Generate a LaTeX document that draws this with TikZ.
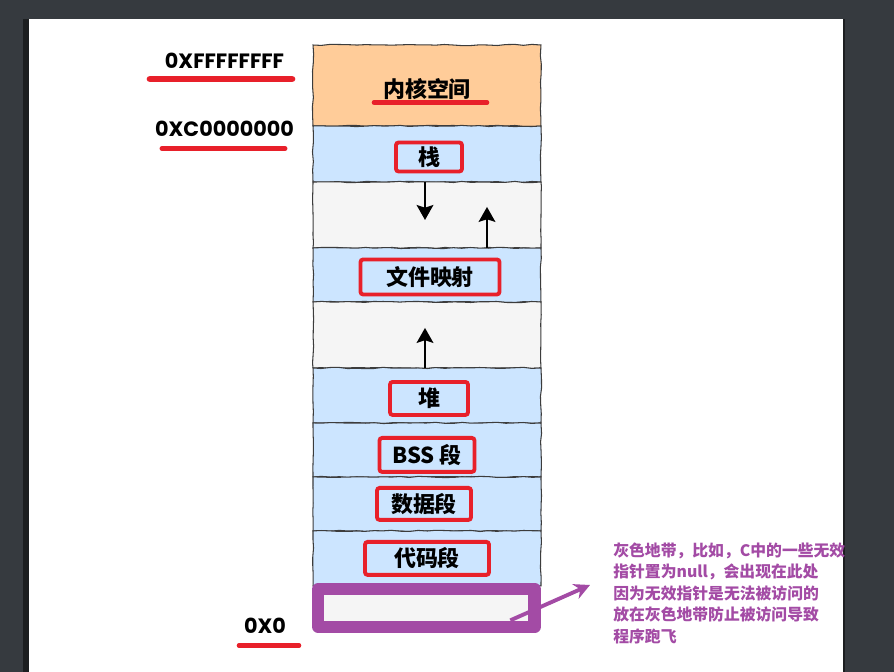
\documentclass[tikz,border=0pt]{standalone}
\usepackage{fontspec}
\usepackage{xcolor}
\usetikzlibrary{arrows.meta,calc,positioning,decorations.pathmorphing}
\newfontfamily\cjk{Noto Sans CJK SC}
\newfontfamily\addrfont{Poppins}
\definecolor{pagebg}{HTML}{363A3F}
\definecolor{pageedge}{HTML}{1C1E20}
\definecolor{kernelc}{HTML}{FFCC99}
\definecolor{userc}{HTML}{CCE5FF}
\definecolor{gapc}{HTML}{F5F5F5}
\definecolor{segline}{HTML}{3C3C3C}
\definecolor{tagred}{HTML}{E8202A}
\definecolor{notepurple}{HTML}{A34BA5}

\begin{document}
\begin{tikzpicture}[x=0.02cm, y=-0.02cm, node distance=0pt,
  seg/.style={draw=segline, line width=0.6pt, minimum width=4.56cm, inner sep=0pt, outer sep=0pt,
    decorate, decoration={random steps, segment length=5pt, amplitude=0.35pt}},
  tag/.style={draw=tagred, line width=2.2pt, rounded corners=1.5pt, inner sep=0pt,
    font=\cjk\bfseries\fontsize{12.5}{15}\selectfont},
  addr/.style={font=\addrfont\bfseries\fontsize{11.8}{14}\selectfont},
  redline/.style={tagred, line cap=round},
  growarrow/.style={-{Stealth[length=8.5pt, width=9.5pt, inset=1.5pt]}, line width=1.2pt},
  ptrarrow/.style={-{Stealth[length=9pt, width=9pt]}, line width=2.2pt, notepurple}]
  \pgfmathsetseed{7}
  % Page and window background
  \useasboundingbox (0,0) rectangle (894,672);
  \fill[pagebg] (0,0) rectangle (894,672);
  \fill[pageedge] (23,19) rectangle (29,672);
  \fill[white] (29,19) rectangle (843,672);
  \fill[pageedge] (843,19) rectangle (844.5,672);

  % Memory segments, top to bottom
  \node[seg, fill=kernelc, minimum height=1.62cm] (kernel) at (427,85.5) {};
  \node[seg, fill=userc, minimum height=1.12cm, below=of kernel] (stack) {};
  \node[seg, fill=gapc, minimum height=1.32cm, below=of stack] (gapone) {};
  \node[seg, fill=userc, minimum height=1.08cm, below=of gapone] (mmap) {};
  \node[seg, fill=gapc, minimum height=1.32cm, below=of mmap] (gaptwo) {};
  \node[seg, fill=userc, minimum height=1.10cm, below=of gaptwo] (heap) {};
  \node[seg, fill=userc, minimum height=1.08cm, below=of heap] (bss) {};
  \node[seg, fill=userc, minimum height=1.08cm, below=of bss] (data) {};
  \node[seg, fill=userc, minimum height=1.10cm, below=of data] (code) {};
  % Null guard band
  \node[fill=notepurple, rounded corners=3.5pt, minimum width=4.58cm, minimum height=1.0cm, inner sep=0pt] (nullseg) at (426.5,608) {};
  \node[fill=gapc, minimum width=4.08cm, minimum height=0.52cm, inner sep=0pt] (nullgap) at (426,608) {};

  % Kernel label
  \node[font=\cjk\bfseries\fontsize{12.5}{15}\selectfont] (kerneltext) at (427,89) {内核空间};
  \draw[redline, line width=2.6pt] (374,102.5) -- (487,102.5);

  % Segment tags
  \node[tag, minimum width=1.32cm, minimum height=0.58cm] (stacktag) at ($(stack)+(2,3)$) {栈};
  \node[tag, minimum width=2.78cm, minimum height=0.70cm] (mmaptag) at ($(mmap)+(3,2)$) {文件映射};
  \node[tag, minimum width=1.56cm, minimum height=0.66cm] (heaptag) at ($(heap)+(2,3)$) {堆};
  \node[tag, minimum width=1.90cm, minimum height=0.68cm] (bsstag) at ($(bss)+(0,5)$) {BSS 段};
  \node[tag, minimum width=1.88cm, minimum height=0.64cm] (datatag) at ($(data)+(-3,0)$) {数据段};
  \node[tag, minimum width=2.48cm, minimum height=0.66cm] (codetag) at (code) {代码段};

  % Addresses
  \node[addr] (addrtop) at (224.5,61) {0XFFFFFFFF};
  \draw[redline, line width=3.8pt] (150,79) -- (292,79);
  \node[addr] (addrkernel) at (224.5,128.5) {0XC0000000};
  \draw[redline, line width=2.8pt] (162,148.5) -- (285,148.5);
  \node[addr] (addrzero) at (265,626) {0X0};
  \draw[redline, line width=2.6pt] (239,645.5) -- (299,645.5);

  % Growth directions
  \coordinate (stackend) at ($(stack.south)+(-2,38)$);
  \draw[growarrow] ($(stack.south)+(-2,0)$) -- (stackend);
  \coordinate (mmapend) at ($(mmap.north)+(60,-41)$);
  \draw[growarrow] ($(mmap.north)+(60,0)$) -- (mmapend);
  \coordinate (heapend) at ($(heap.north)+(-2,-40)$);
  \draw[growarrow] ($(heap.north)+(-2,0)$) -- (heapend);

  % Note on the guard band
  \node[anchor=north west, align=left, inner sep=0pt, text=notepurple,
    font=\cjk\bfseries\fontsize{9}{12.3}\selectfont] (note) at (613,542)
    {灰色地带，比如，C中的一些无效\\指针置为null，会出现在此处\\因为无效指针是无法被访问的\\放在灰色地带防止被访问导致\\程序跑飞};
  \coordinate (ptrtail) at ($(nullgap.south east)+(-18,-1)$);
  \coordinate (ptrtip) at (590,585);
  \draw[ptrarrow] (ptrtail) -- (ptrtip);
\end{tikzpicture}
\end{document}
